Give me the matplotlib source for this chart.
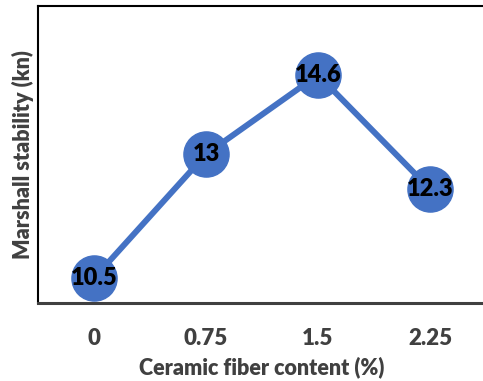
import numpy as np
import matplotlib
matplotlib.use("Agg")
import matplotlib.pyplot as plt

plt.rcParams['font.family'] = ['Lato', 'DejaVu Sans']

# Marshall stability against ceramic fiber content
fiber_labels = ["0", "0.75", "1.5", "2.25"]
stability = [10.5, 13, 14.6, 12.3]

blue = "#4472C4"
gray = "#404040"

fig = plt.figure(figsize=(4.83, 3.81), dpi=100)
ax = fig.add_axes([38 / 483, 1 - 303 / 381, 448 / 483, (303 - 5.5) / 381])

x = np.arange(len(fiber_labels))
ax.plot(x, stability, color=blue, lw=4.3, marker="o", markersize=32.5,
        markerfacecolor=blue, markeredgecolor=blue, solid_capstyle="round",
        clip_on=False, zorder=3)
for xi, v in zip(x, stability):
    ax.text(xi, v, f"{v:g}", ha="center", va="center", fontsize=17,
            fontweight="heavy", color="black", zorder=4)

ax.set_xlim(-0.5, len(fiber_labels) - 0.5)
ax.set_ylim(10, 16)
ax.set_xticks(x)
ax.set_xticklabels(fiber_labels, fontsize=16, fontweight="heavy", color=gray)
ax.set_yticks([])
ax.tick_params(axis="x", length=0, pad=18)

ax.set_xlabel("Ceramic fiber content (%)", fontsize=15.5, fontweight="heavy",
              color=gray, labelpad=5)
ax.set_ylabel("Marshall stability (kn)", fontsize=15.5, fontweight="heavy",
              color=gray, labelpad=3)

for side in ("top", "left"):
    ax.spines[side].set_color("black")
    ax.spines[side].set_linewidth(1.5)
ax.spines["bottom"].set_color(gray)
ax.spines["bottom"].set_linewidth(2.2)
ax.spines["right"].set_visible(False)

fig.savefig("out.png", dpi=100)
